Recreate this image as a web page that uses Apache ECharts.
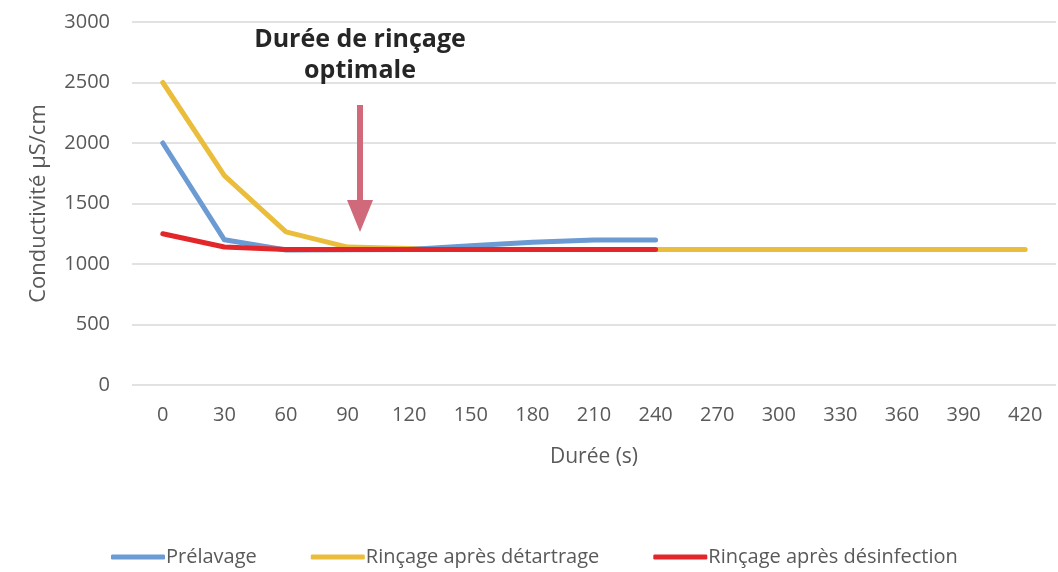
<!DOCTYPE html>
<html>
<head>
<meta charset="utf-8">
<script src="https://cdn.jsdelivr.net/npm/echarts@6/dist/echarts.min.js"></script>
<style>
  html, body { margin: 0; padding: 0; background: #fff; }
  #chart { width: 1058px; height: 572px; }
</style>
</head>
<body>
<div id="chart"></div>
<script>
// data
var durees = ['0', '30', '60', '90', '120', '150', '180', '210', '240', '270', '300', '330', '360', '390', '420'];
var prelavage = [2000, 1200, 1115, 1118, 1120, 1150, 1180, 1198, 1198];
var rincageDetartrage = [2500, 1730, 1265, 1140, 1128, 1120, 1120, 1120, 1120, 1120, 1120, 1120, 1120, 1120, 1120];
var rincageDesinfection = [1250, 1140, 1120, 1120, 1120, 1120, 1120, 1120, 1120];
var yTicks = { min: 0, max: 3000, interval: 500 };

var font = '"Open Sans", Lato, sans-serif';
var myChart = echarts.init(document.getElementById('chart'));

function lineSerie(name, data, color, z) {
	return {
		name: name,
		type: 'line',
		data: data,
		symbol: 'none',
		z: z,
		lineStyle: { color: color, width: 5, cap: 'round', join: 'round' },
		itemStyle: { color: color }
	};
}

myChart.setOption({
	animation: false,
	textStyle: { fontFamily: font },
	grid: { left: 132, right: 2, top: 22, bottom: 187 },
	legend: {
		bottom: 0,
		left: 106,
		itemGap: 54,
		itemWidth: 54,
		itemHeight: 5,
		icon: 'roundRect',
		textStyle: { fontSize: 20, color: '#595959', fontFamily: font, padding: [0, 0, 0, -4] },
		data: ['Prélavage', 'Rinçage après détartrage', 'Rinçage après désinfection']
	},
	xAxis: {
		type: 'category',
		data: durees,
		name: 'Durée (s)',
		nameLocation: 'middle',
		nameGap: 62,
		nameTextStyle: { fontSize: 21, color: '#595959' },
		axisLine: { show: false },
		axisTick: { show: false },
		axisLabel: { fontSize: 20, color: '#595959', margin: 20 }
	},
	yAxis: {
		type: 'value',
		min: yTicks.min,
		max: yTicks.max,
		interval: yTicks.interval,
		name: 'Conductivité µS/cm',
		nameLocation: 'middle',
		nameGap: 82,
		nameTextStyle: { fontSize: 22, color: '#595959' },
		axisLabel: { fontSize: 20, color: '#595959', margin: 22, formatter: function (v) { return String(v); } },
		splitLine: { lineStyle: { color: '#d9d9d9', width: 1.5 } }
	},
	graphic: [
		{
			type: 'text',
			x: 360,
			y: 24,
			style: {
				text: 'Durée de rinçage\noptimale',
				font: 'bold 25px ' + font,
				fill: '#262626',
				align: 'center',
				lineHeight: 31
			},
			z: 100
		},
		{
			type: 'rect',
			shape: { x: 357, y: 105, width: 6, height: 100 },
			style: { fill: '#d0697a' },
			z: 100
		},
		{
			type: 'polygon',
			shape: { points: [[347, 200], [373, 200], [360, 232]] },
			style: { fill: '#d0697a' },
			z: 100
		}
	],
	series: [
		lineSerie('Prélavage', prelavage, '#6b9bd2', 2),
		lineSerie('Rinçage après détartrage', rincageDetartrage, '#ebbd3c', 1),
		lineSerie('Rinçage après désinfection', rincageDesinfection, '#e3262a', 3)
	]
});
</script>
</body>
</html>
